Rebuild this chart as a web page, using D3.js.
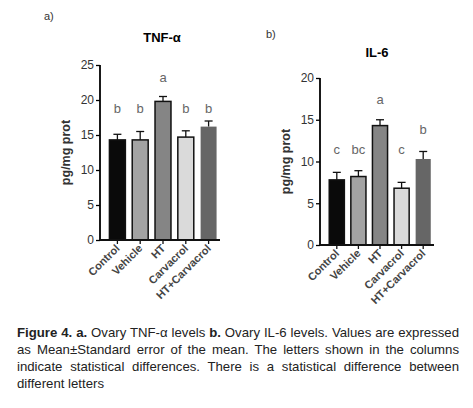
<!DOCTYPE html><html><head><meta charset="utf-8"><script src="https://cdn.jsdelivr.net/npm/d3@7"></script>
<style>body{margin:0;background:#fff;font-family:Arial,"Liberation Sans",sans-serif}
#cap{position:absolute;left:17px;top:324px;width:442px;font-size:13.2px;line-height:17px;text-align:justify;color:#222}</style></head><body>
<svg id="c" width="473" height="320"></svg>
<div id="cap"><b>Figure 4. a.</b> Ovary TNF-α levels <b>b.</b> Ovary IL-6 levels. Values are expressed as Mean±Standard error of the mean. The letters shown in the columns indicate statistical differences. There is a statistical difference between different letters</div>
<script>
const categories=["Control","Vehicle","HT","Carvacrol","HT+Carvacrol"];
const colors=["#0a0a0a","#a3a3a3","#858585","#dadada","#666666"];
const tnfValues=[14.3,14.3,19.8,14.7,16.2];
const tnfErr=[0.8,1.2,0.7,0.9,0.8];
const tnfLetters=["b","b","a","b","b"];
const il6Values=[7.8,8.2,14.3,6.8,10.3];
const il6Err=[0.9,0.7,0.7,0.7,0.9];
const il6Letters=["c","bc","a","c","b"];
const svg=d3.select("#c");
function panel(o){
  const g=svg.append("g");
  const y=d3.scaleLinear().domain([0,o.max]).range([o.y0,o.y1]);
  const x=d3.scaleBand().domain(categories).range([o.x0+6,o.x1]).paddingInner(0.3).paddingOuter(0.15);
  g.append("text").attr("x",o.lx).attr("y",o.ly).text(o.lab).attr("font-size",11).attr("fill","#333");
  g.append("text").attr("x",o.tx).attr("y",o.ty).text(o.title).attr("font-size",13).attr("font-weight","bold").attr("text-anchor","middle");
  const ya=g.append("g").attr("transform",`translate(${o.x0},0)`).call(d3.axisLeft(y).tickValues(o.ticks).tickSize(4).tickPadding(2));
  ya.selectAll("text").attr("font-size",12).attr("fill","#333");
  ya.select(".domain").attr("stroke-width",1.8).attr("d",`M0,${o.y0}V${o.y1}`);
  ya.selectAll("line").attr("stroke-width",1.3);
  g.append("text").attr("transform",`translate(${o.x0-30},${(o.y0+o.y1)/2}) rotate(-90)`).attr("text-anchor","middle").attr("font-size",12.5).attr("font-weight","bold").attr("fill","#333").text("pg/mg prot");
  categories.forEach((c,i)=>{
    const cx=x(c)+x.bandwidth()/2, v=o.vals[i], e=o.err[i];
    g.append("line").attr("x1",cx).attr("x2",cx).attr("y1",y(v)).attr("y2",y(v+e)).attr("stroke","#111").attr("stroke-width",1.3);
    g.append("line").attr("x1",cx-4).attr("x2",cx+4).attr("y1",y(v+e)).attr("y2",y(v+e)).attr("stroke","#111").attr("stroke-width",1.3);
    g.append("rect").attr("x",x(c)).attr("y",y(v)).attr("width",x.bandwidth()).attr("height",o.y0-y(v)).attr("fill",colors[i]).attr("stroke",i==4?"none":"#111").attr("stroke-width",1.5);
    g.append("text").attr("x",cx).attr("y",o.letterY(i,y)).attr("text-anchor","middle").attr("font-size",13).attr("fill","#666").text(o.letters[i]);
    g.append("line").attr("x1",cx).attr("x2",cx).attr("y1",o.y0).attr("y2",o.y0+4).attr("stroke","#111").attr("stroke-width",1.3);
    g.append("text").attr("transform",`translate(${cx+3},${o.y0+9}) rotate(-45)`).attr("text-anchor","end").attr("font-size",11).attr("font-weight","bold").attr("fill","#444").text(c);
  });
  g.append("line").attr("x1",o.x0).attr("x2",o.x1).attr("y1",o.y0).attr("y2",o.y0).attr("stroke","#111").attr("stroke-width",1.8);
}
panel({x0:100,x1:220,y0:240,y1:65,max:25,ticks:[0,5,10,15,20,25],vals:tnfValues,err:tnfErr,letters:tnfLetters,
  lab:"a)",lx:44,ly:20,title:"TNF-α",tx:162,ty:42,letterY:(i,y)=>i==2?82:113});
panel({x0:320,x1:434,y0:245,y1:78,max:20,ticks:[0,5,10,15,20],vals:il6Values,err:il6Err,letters:il6Letters,
  lab:"b)",lx:266,ly:38,title:"IL-6",tx:377,ty:57,letterY:(i,y)=>[154,154,104,154,134][i]});
</script></body></html>
